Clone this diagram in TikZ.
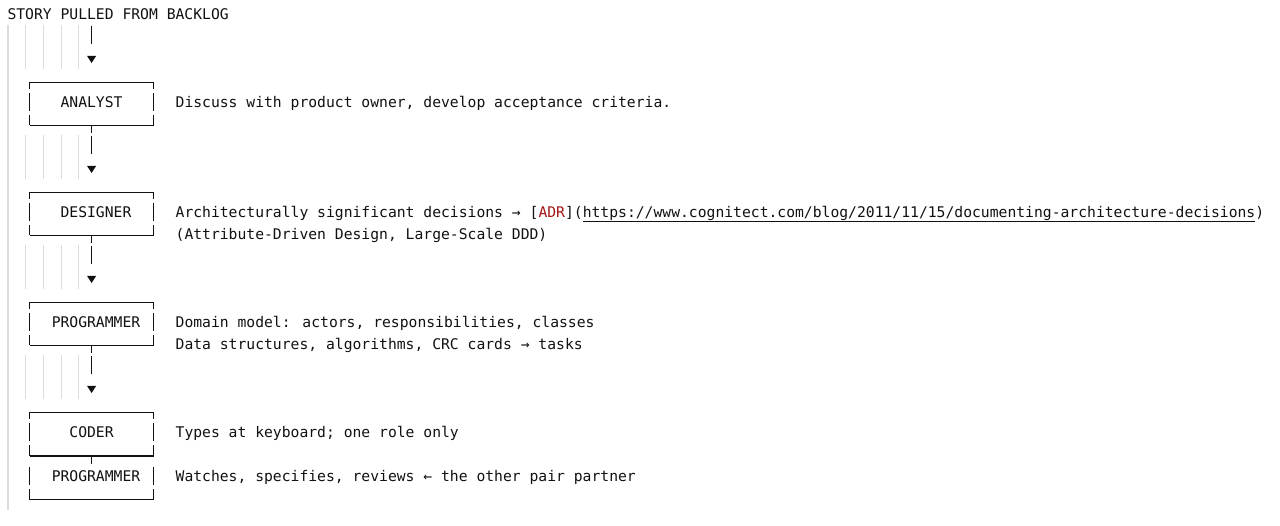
\documentclass[tikz,border=0pt]{standalone}
\usepackage{fontspec}
\newfontfamily\monofam{DejaVu Sans Mono}
\usetikzlibrary{calc}
\definecolor{ink}{HTML}{111111}
\definecolor{guide}{HTML}{DCDCDC}
\definecolor{adrred}{HTML}{A31515}
\tikzset{
  txt/.style={font=\monofam\fontsize{14.7}{22}\selectfont, text=ink, inner sep=0pt, outer sep=0pt, anchor=base west},
  rolebox/.style={draw=none, inner sep=0pt, outer sep=0pt, minimum width=123.9pt},
  edge/.style={draw=ink, line width=1.2pt},
  guideline/.style={draw=guide, line width=1pt},
  stemline/.style={draw=ink, line width=1.2pt, dash pattern=on 7.5pt off 3.5pt on 18pt off 60pt},
  tipfill/.style={fill=ink},
  sideA/.style={draw=ink, line width=1.2pt, dash pattern=on 6.5pt off 4pt on 18pt off 4pt on 20pt},
  sideB/.style={draw=ink, line width=1.2pt, dash pattern=on 6.5pt off 4pt on 18pt off 4pt on 10.5pt off 11.5pt on 18pt off 4pt on 20pt},
}
\begin{document}
\begin{tikzpicture}[x=1pt,y=-1pt]
\useasboundingbox (0,0) rectangle (1280,526);

% indent guides
\draw[guideline, line width=1.6pt] (8,25.5) -- (8,509.5);
\foreach \r in {1,6,11,16}{
  \foreach \x in {25.7,43.4,61.1,78.8}{
    \draw[guideline] (\x,{3.5+22*\r}) -- (\x,{47.5+22*\r});
  }
}

% title
\node[txt] (title) at (7.5,19.8) {STORY PULLED FROM BACKLOG};

% boxes
\node[rolebox, minimum height=43pt] (b1) at (91.6,104) {};
\node[rolebox, minimum height=43pt] (b2) at (91.6,214) {};
\node[rolebox, minimum height=43pt] (b3) at (91.6,324) {};
\node[rolebox, minimum height=87pt] (b4) at (91.6,456) {};

\foreach \b in {b1,b2,b3}{
  \draw[edge] (\b.north west) -- (\b.north east);
  \draw[edge] (\b.south west) -- (\b.south east);
  \draw[sideA] (\b.north west) -- (\b.south west);
  \draw[sideA] (\b.north east) -- (\b.south east);
}
\draw[edge] (b4.north west) -- (b4.north east);
\draw[edge] (b4.west) -- (b4.east);
\draw[edge] (b4.south west) -- (b4.south east);
\draw[sideB] (b4.north west) -- (b4.south west);
\draw[sideB] (b4.north east) -- (b4.south east);
\draw[edge] (b4.center) -- ++(0,7.5);

% labels in boxes
\node[txt] (l1) at (60.6,107.8) {ANALYST};
\node[txt] (l2) at (60.6,217.8) {DESIGNER};
\node[txt] (l3) at (51.75,327.8) {PROGRAMMER};
\node[txt] (l4) at (69.45,437.8) {CODER};
\node[txt] (l5) at (51.75,481.8) {PROGRAMMER};

% descriptions
\node[txt] (d1) at (175.65,107.8) {Discuss with product owner, develop acceptance criteria.};
\node[txt] (d2a) at (175.65,217.8) {Architecturally significant decisions → [};
\node[txt, text=adrred] (adr) at (d2a.base east) {ADR};
\node[txt] (d2b) at (adr.base east) {](};
\node[txt] (url) at (d2b.base east) {https://www.cognitect.com/blog/2011/11/15/documenting-architecture-decisions};
\node[txt] (d2c) at (url.base east) {)};
\draw[draw=ink, line width=1pt] ([yshift=-4.2pt]url.base west) -- ([yshift=-4.2pt]url.base east);
\node[txt] (d2d) at (175.65,239.8) {(Attribute-Driven Design, Large-Scale DDD)};
\node[txt] (d3) at (175.65,327.8) {Domain model: actors, responsibilities, classes};
\node[txt] (d3b) at (175.65,349.8) {Data structures, algorithms, CRC cards → tasks};
\node[txt] (d4) at (175.65,437.8) {Types at keyboard; one role only};
\node[txt] (d5) at (175.65,481.8) {Watches, specifies, reviews ← the other pair partner};

% stems and arrow tips
\coordinate (s0) at (91.6,26.5);
\coordinate (t1) at (91.6,56);
\coordinate (t2) at (91.6,166);
\coordinate (t3) at (91.6,276);
\coordinate (t4) at (91.6,386);
\draw[edge, dash pattern=on 18pt off 60pt] (s0) -- (t1);
\draw[stemline] (b1.south) -- (t2);
\draw[stemline] (b2.south) -- (t3);
\draw[stemline] (b3.south) -- (t4);
\foreach \t in {t1,t2,t3,t4}{
  \fill[tipfill] (\t) ++(-4.5,0) -- ++(9,0) -- ++(-4.5,7) -- cycle;
}
\end{tikzpicture}
\end{document}
